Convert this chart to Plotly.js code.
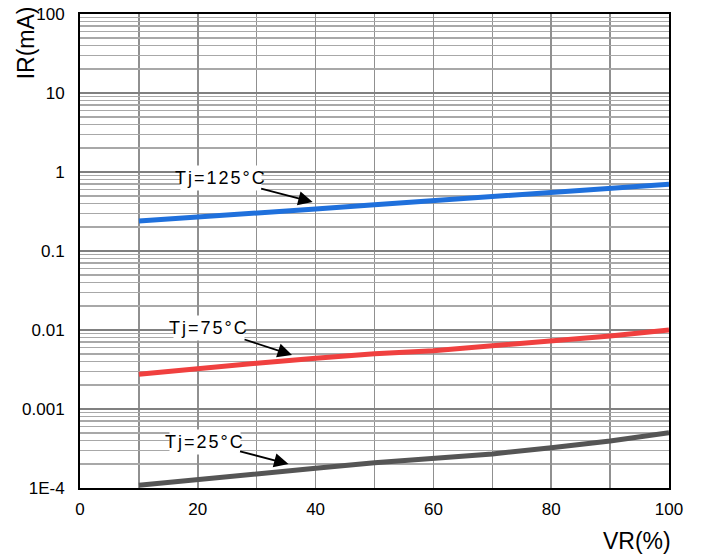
<!DOCTYPE html>
<html><head><meta charset="utf-8">
<script src="https://cdn.plot.ly/plotly-3.0.1.min.js"></script>
<style>
html,body{margin:0;padding:0;background:#fff;}
#chart{width:706px;height:555px;}
.annotation[data-index="0"] .annotation-text,
.annotation[data-index="1"] .annotation-text,
.annotation[data-index="2"] .annotation-text{letter-spacing:2px;}
</style>
</head><body>
<div id="chart"></div>
<script>
const vr = [10, 20, 30, 40, 50, 60, 70, 80, 90, 100];
const ir125 = [0.240, 0.267, 0.300, 0.340, 0.385, 0.434, 0.483, 0.542, 0.609, 0.698];
const ir75 = [0.00275, 0.00327, 0.00379, 0.00438, 0.00500, 0.00547, 0.00627, 0.00720, 0.00840, 0.0100];
const ir25 = [0.000108, 0.000129, 0.000152, 0.000178, 0.000209, 0.000236, 0.000270, 0.000324, 0.000393, 0.000500];
const xTicks = [0, 20, 40, 60, 80, 100];
const yTicks = [1e-4, 0.001, 0.01, 0.1, 1, 10, 100];
const yTickText = ['1E-4', '0.001', '0.01', '0.1', '1', '10', '100'];
const labels = ['Tj=125°C', 'Tj=75°C', 'Tj=25°C'];
const labelPts = [[39.5, 0.417], [36.0, 0.00483], [35.4, 0.000201]];
const labelOffsets = [[-92, -24], [-83, -27], [-84, -22]];

const font = 'Liberation Sans, Arial, sans-serif';
const traces = [
  {x: vr, y: ir125, mode: 'lines', line: {color: '#1f70dc', width: 5}},
  {x: vr, y: ir75, mode: 'lines', line: {color: '#f0403f', width: 5}},
  {x: vr, y: ir25, mode: 'lines', line: {color: '#555555', width: 5}}
];
const annotations = labels.map((t, i) => ({
  x: labelPts[i][0], y: Math.log10(labelPts[i][1]), xref: 'x', yref: 'y',
  text: t, showarrow: true, arrowhead: 2, arrowsize: 1.6, arrowwidth: 1.8, arrowcolor: '#000',
  ax: labelOffsets[i][0], ay: labelOffsets[i][1],
  bgcolor: '#ffffff', borderpad: 2,
  font: {family: font, size: 18, color: '#000'}
}));
annotations.push({
  text: 'IR(mA)', xref: 'paper', yref: 'paper', x: -0.092, y: 1.0, xanchor: 'center', yanchor: 'top',
  textangle: -90, showarrow: false, font: {family: font, size: 23, color: '#000'}, yshift: 10
});
annotations.push({
  text: 'VR(%)', xref: 'paper', yref: 'paper', x: 1.0, y: 0, xanchor: 'right', yanchor: 'top',
  showarrow: false, font: {family: font, size: 23, color: '#000'}, xshift: 4, yshift: -38
});
const layout = {
  width: 706, height: 555,
  margin: {l: 80, r: 37, t: 14, b: 67},
  paper_bgcolor: '#fff', plot_bgcolor: '#fff',
  showlegend: false,
  font: {family: font, size: 17, color: '#000'},
  xaxis: {
    range: [0, 100], tickvals: xTicks, ticks: '', showgrid: true, gridcolor: '#909090', gridwidth: 1.5,
    minor: {dtick: 10, showgrid: true, gridcolor: '#909090', gridwidth: 1.5},
    showline: true, linecolor: '#000', linewidth: 2, mirror: true, zeroline: false,
    ticklabelstandoff: 5, tickfont: {family: font, size: 17}
  },
  yaxis: {
    type: 'log', range: [-4, 2], tickvals: yTicks, ticktext: yTickText, ticks: '',
    showgrid: true, gridcolor: '#808080', gridwidth: 1.5,
    minor: {dtick: 'D1', showgrid: true, gridcolor: '#a8a8a8', gridwidth: 1.5},
    showline: true, linecolor: '#000', linewidth: 2, mirror: true, zeroline: false,
    ticklabelstandoff: 10, tickfont: {family: font, size: 17}
  },
  annotations: annotations
};
Plotly.newPlot('chart', traces, layout, {staticPlot: true, displayModeBar: false});
</script>
</body></html>
